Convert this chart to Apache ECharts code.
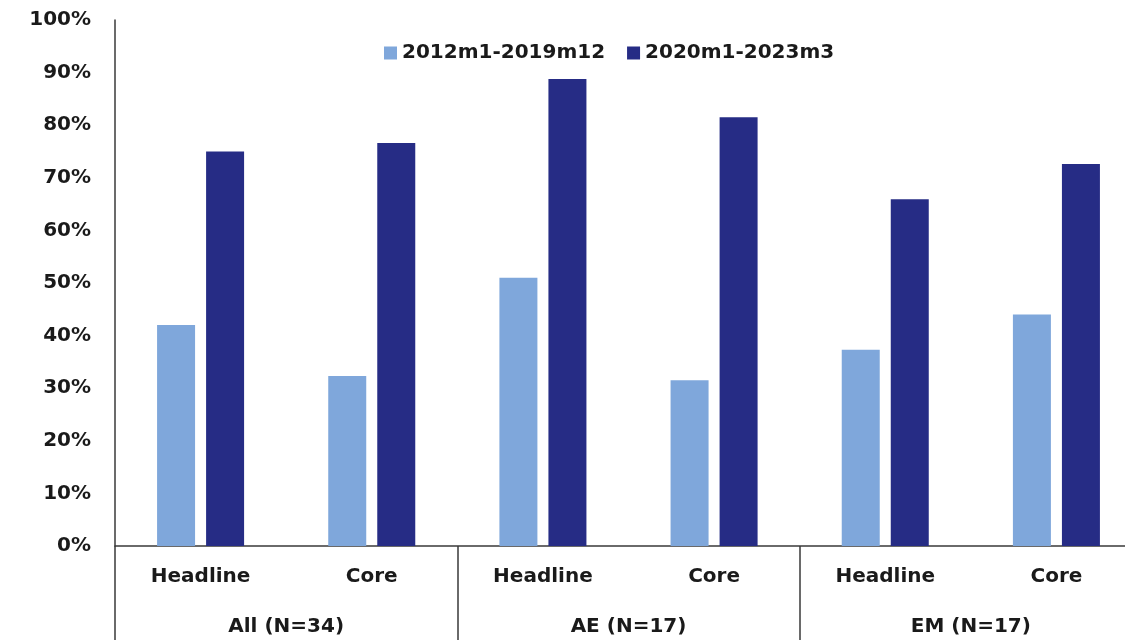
<!DOCTYPE html>
<html>
<head>
<meta charset="utf-8">
<title>Share of months above target</title>
<script src="https://cdn.jsdelivr.net/npm/echarts@6/dist/echarts.min.js"></script>
<style>
  html, body { margin: 0; padding: 0; background: #ffffff; overflow: hidden; }
  /* the third group runs slightly past the right edge of the window */
  #chart { width: 1142px; height: 640px; }
</style>
</head>
<body>
<div id="chart"></div>
<script>
// Inflation measures (inner axis) and country groups (outer axis)
const categories = ['Headline', 'Core', 'Headline', 'Core', 'Headline', 'Core'];
const groups = ['All (N=34)', 'AE (N=17)', 'EM (N=17)'];
const seriesNames = ['2012m1-2019m12', '2020m1-2023m3'];

// Percent values per period
const period2012to2019 = [42, 32.3, 51, 31.5, 37.3, 44];
const period2020to2023 = [75, 76.6, 88.8, 81.5, 65.9, 72.6];

// Y-axis ticks: 0% .. 100% by 10
const yMin = 0, yMax = 100, yStep = 10;

const lightBlue = '#7FA7DB';
const darkBlue = '#262C85';
const axisColor = '#3a3a3a';
const textColor = '#1a1a1a';
const font = 'DejaVu Sans';

const chart = echarts.init(document.getElementById('chart'));

chart.setOption({
  backgroundColor: '#ffffff',
  animation: false,
  textStyle: { fontFamily: font },
  legend: {
    left: 379,
    top: 38,
    itemWidth: 13,
    itemHeight: 13,
    itemGap: 22,
    icon: 'rect',
    textStyle: { fontFamily: font, fontSize: 20, fontWeight: 'bold', color: textColor },
    data: seriesNames
  },
  grid: { left: 115, top: 20, right: 0, bottom: 94, containLabel: false },
  xAxis: [
    {
      type: 'category',
      data: categories,
      position: 'bottom',
      axisLine: { show: true, lineStyle: { color: axisColor, width: 1.5 } },
      axisTick: { show: false },
      axisLabel: { interval: 0, margin: 21, fontFamily: font, fontSize: 20, fontWeight: 'bold', color: textColor }
    },
    {
      type: 'category',
      data: groups,
      position: 'bottom',
      axisLine: { show: false },
      axisTick: { show: true, interval: 0, length: 100, lineStyle: { color: axisColor, width: 1.5 } },
      axisLabel: { interval: 0, margin: 71, fontFamily: font, fontSize: 20, fontWeight: 'bold', color: textColor }
    }
  ],
  yAxis: {
    type: 'value',
    min: yMin,
    max: yMax,
    interval: yStep,
    axisLine: { show: true, lineStyle: { color: axisColor, width: 1.5 } },
    axisTick: { show: false },
    splitLine: { show: false },
    axisLabel: {
      margin: 24,
      fontFamily: font,
      fontSize: 20,
      fontWeight: 'bold',
      color: textColor,
      formatter: '{value}%'
    }
  },
  series: [
    {
      name: seriesNames[0],
      type: 'bar',
      xAxisIndex: 0,
      data: period2012to2019,
      barWidth: 38,
      barGap: '29%',
      itemStyle: { color: lightBlue }
    },
    {
      name: seriesNames[1],
      type: 'bar',
      xAxisIndex: 0,
      data: period2020to2023,
      barWidth: 38,
      barGap: '29%',
      itemStyle: { color: darkBlue }
    }
  ]
});
</script>
</body>
</html>
